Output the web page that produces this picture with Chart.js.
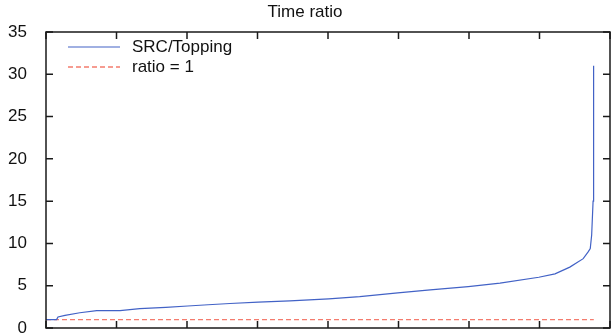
<!DOCTYPE html>
<html>
<head>
<meta charset="utf-8">
<script src="https://cdn.jsdelivr.net/npm/chart.js@4"></script>
<style>
  html, body { margin: 0; padding: 0; background: #fff; }
  #wrap { position: relative; width: 616px; height: 335px; }
  .row { position: absolute; left: 68px; display: flex; align-items: center; height: 20px;
         font: 17px "Liberation Sans", Arial, sans-serif; color: #111; white-space: nowrap; }
  .row svg { width: 52px; height: 4px; margin-right: 12px; }
</style>
</head>
<body>
<div id="wrap">
  <canvas id="c" width="616" height="335"></canvas>
  <div class="row" style="top:37px"><svg><line x1="0" y1="2" x2="52" y2="2" stroke="#4262c6" stroke-width="1.2"/></svg>SRC/Topping</div>
  <div class="row" style="top:57px"><svg><line x1="0" y1="2" x2="52" y2="2" stroke="#f47c6e" stroke-width="1.3" stroke-dasharray="5,3"/></svg>ratio = 1</div>
</div>
<script>
// sorted time ratio, sampled along the run index
const runIndex = [0, 15, 17, 27, 48, 72, 105, 133, 170, 201, 230, 261, 301, 346, 401, 445, 499, 545, 599, 644, 699, 722, 743, 762, 769, 772, 774, 776, 776.5, 777];
const ratio =    [1.0, 1.0, 1.3, 1.5, 1.8, 2.05, 2.05, 2.3, 2.45, 2.6, 2.75, 2.9, 3.05, 3.2, 3.45, 3.7, 4.15, 4.5, 4.9, 5.3, 6.0, 6.4, 7.2, 8.2, 9.0, 9.4, 11, 15, 23, 31];
const refLine = [{x: 0, y: 1}, {x: 777, y: 1}];
const yTicks = [0, 5, 10, 15, 20, 25, 30, 35];

const border = {
  id: 'border',
  afterDraw(chart) {
    const ctx = chart.ctx, a = chart.chartArea;
    const xs = chart.scales.x, ys = chart.scales.y;
    ctx.save();
    ctx.strokeStyle = '#1a1a1a';
    ctx.lineWidth = 1.5;
    ctx.strokeRect(a.left, a.top, a.right - a.left, a.bottom - a.top);
    ctx.beginPath();
    xs.ticks.forEach(t => {
      const px = xs.getPixelForValue(t.value);
      ctx.moveTo(px, a.bottom); ctx.lineTo(px, a.bottom - 7);
      ctx.moveTo(px, a.top); ctx.lineTo(px, a.top + 7);
    });
    ys.ticks.forEach(t => {
      const py = ys.getPixelForValue(t.value);
      ctx.moveTo(a.left, py); ctx.lineTo(a.left + 7, py);
      ctx.moveTo(a.right, py); ctx.lineTo(a.right - 7, py);
    });
    ctx.stroke();
    ctx.restore();
  }
};

new Chart(document.getElementById('c'), {
  type: 'line',
  data: {
    datasets: [
      {
        label: 'SRC/Topping',
        data: runIndex.map((x, i) => ({x, y: ratio[i]})),
        borderColor: '#4262c6',
        borderWidth: 1.2,
        pointRadius: 0,
        tension: 0
      },
      {
        label: 'ratio = 1',
        data: refLine,
        borderColor: '#f47c6e',
        borderWidth: 1.3,
        borderDash: [5, 3],
        pointRadius: 0
      }
    ]
  },
  options: {
    responsive: false,
    animation: false,
    layout: { padding: { left: 0, right: 6, bottom: 7, top: 0 } },
    plugins: {
      legend: { display: false },
      tooltip: { enabled: false },
      title: {
        display: true,
        text: 'Time ratio',
        color: '#111',
        font: { family: '"Liberation Sans", Arial, sans-serif', size: 17, weight: 'normal' },
        padding: { top: 2, bottom: 9.6 }
      }
    },
    scales: {
      x: {
        type: 'linear',
        min: 0,
        max: 800,
        ticks: { display: false, stepSize: 100 },
        afterFit: s => { s.height = 0; },
        grid: { display: false },
        border: { display: false }
      },
      y: {
        min: 0,
        max: 35,
        afterBuildTicks: s => { s.ticks = yTicks.map(v => ({value: v})); },
        afterFit: s => { s.width = 46; s.paddingTop = 0; s.paddingBottom = 0; },
        ticks: {
          padding: 11,
          color: '#111',
          font: { family: '"Liberation Sans", Arial, sans-serif', size: 17 }
        },
        grid: { display: false },
        border: { display: false }
      }
    }
  },
  plugins: [border]
});
</script>
</body>
</html>
